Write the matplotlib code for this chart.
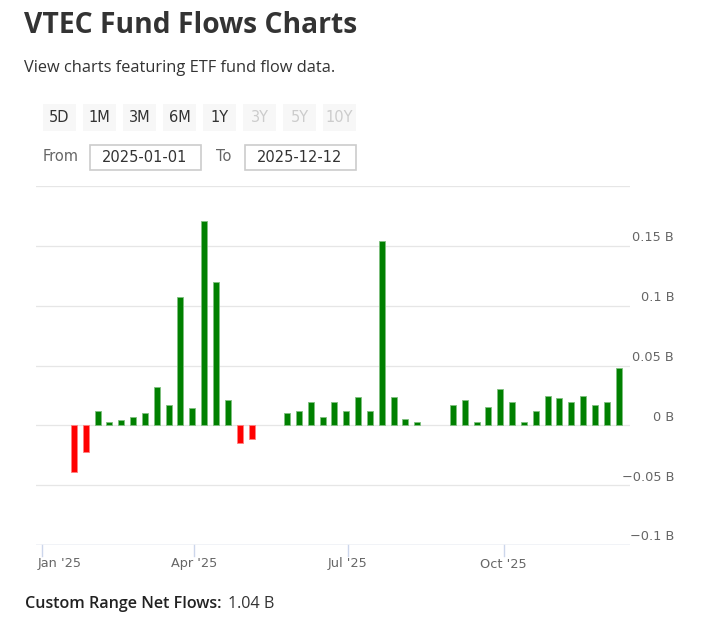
import matplotlib
matplotlib.use("Agg")
import matplotlib.pyplot as plt
import matplotlib.dates as mdates
import matplotlib.transforms as mtransforms
from matplotlib.patches import Rectangle
import numpy as np
import datetime as dt

# ---------------- data ----------------
week_dates = [
    "2025-01-20", "2025-01-27", "2025-02-03", "2025-02-10", "2025-02-17", "2025-02-24",
    "2025-03-03", "2025-03-10", "2025-03-17", "2025-03-24", "2025-03-31", "2025-04-07",
    "2025-04-14", "2025-04-21", "2025-04-28", "2025-05-05",
    "2025-05-26", "2025-06-02", "2025-06-09", "2025-06-16", "2025-06-23", "2025-06-30",
    "2025-07-07", "2025-07-14", "2025-07-21", "2025-07-28", "2025-08-04", "2025-08-11",
    "2025-09-01", "2025-09-08", "2025-09-15", "2025-09-22", "2025-09-29", "2025-10-06",
    "2025-10-13", "2025-10-20", "2025-10-27", "2025-11-03", "2025-11-10", "2025-11-17",
    "2025-11-24", "2025-12-01", "2025-12-08",
]
flows_b = [
    -0.039, -0.022, 0.012, 0.0025, 0.0048, 0.007,
    0.010, 0.032, 0.0173, 0.1076, 0.0143, 0.171,
    0.120, 0.0215, -0.0148, -0.0117,
    0.010, 0.012, 0.0196, 0.007, 0.0196, 0.012,
    0.0238, 0.012, 0.1537, 0.0238, 0.005, 0.0025,
    0.0173, 0.0215, 0.0025, 0.0154, 0.030, 0.0196,
    0.0025, 0.012, 0.0246, 0.0226, 0.0196, 0.0246,
    0.0173, 0.0196, 0.0478,
]
y_ticks = [-0.1, -0.05, 0.0, 0.05, 0.1, 0.15, 0.2]
y_tick_labels = ["\u22120.1 B", "\u22120.05 B", "0 B", "0.05 B", "0.1 B", "0.15 B", ""]
x_tick_dates = ["2025-01-01", "2025-04-01", "2025-07-01", "2025-10-01"]
x_tick_labels = ["Jan '25", "Apr '25", "Jul '25", "Oct '25"]
range_buttons = ["5D", "1M", "3M", "6M", "1Y", "3Y", "5Y", "10Y"]
button_enabled = [True, True, True, True, True, False, False, False]
date_from = "2025-01-01"
date_to = "2025-12-12"
net_flows_text = "1.04 B"

# ---------------- figure ----------------
W, H = 701, 631
fig = plt.figure(figsize=(W / 100, H / 100), dpi=100)
fig.patch.set_facecolor("white")
PX = mtransforms.Affine2D().scale(1 / W, -1 / H).translate(0, 1) + fig.transFigure

FONT = ["Open Sans", "DejaVu Sans"]
UI_FONT = ["DejaVu Sans"]

# title & subtitle
fig.text(24, 33, "VTEC Fund Flows Charts", transform=PX, fontsize=20.3,
         fontweight="bold", color="#333333", family=FONT, va="baseline", ha="left")
fig.text(24, 71.5, "View charts featuring ETF fund flow data.", transform=PX,
         fontsize=11.8, color="#333333", family=FONT, va="baseline", ha="left")

# range buttons
bx0, bw, bstep = 43, 33, 40
for i, (lab, en) in enumerate(zip(range_buttons, button_enabled)):
    x = bx0 + i * bstep
    fig.patches.append(Rectangle((x, 103.5), bw, 27, transform=PX,
                                 facecolor="#f7f7f7", edgecolor="none"))
    fig.text(x + bw / 2, 117, lab, transform=PX, fontsize=10.5,
             color="#333333" if en else "#cccccc", family=UI_FONT,
             ha="center", va="center")

# from / to
fig.text(43, 156.5, "From", transform=PX, fontsize=10.5, color="#666666",
         family=UI_FONT, ha="left", va="center")
fig.patches.append(Rectangle((89.5, 144.5), 111.5, 25.5, transform=PX,
                             facecolor="white", edgecolor="#cccccc", linewidth=1.2))
fig.text(145, 157, date_from, transform=PX, fontsize=10.5, color="#333333",
         family=UI_FONT, ha="center", va="center")
fig.text(216, 156.5, "To", transform=PX, fontsize=10.5, color="#666666",
         family=UI_FONT, ha="left", va="center")
fig.patches.append(Rectangle((244.5, 144.5), 111, 25.5, transform=PX,
                             facecolor="white", edgecolor="#cccccc", linewidth=1.2))
fig.text(300, 157, date_to, transform=PX, fontsize=10.5, color="#333333",
         family=UI_FONT, ha="center", va="center")

# ---------------- chart ----------------
ax_l, ax_r, ax_t, ax_b = 36, 630, 186, 545
ax = fig.add_axes([ax_l / W, (H - ax_b) / H, (ax_r - ax_l) / W, (ax_b - ax_t) / H])
ax.set_facecolor("white")
for s in ax.spines.values():
    s.set_visible(False)

dates = [dt.datetime.strptime(d, "%Y-%m-%d") for d in week_dates]
xnum = mdates.date2num(dates)
vals = np.array(flows_b)
colors = ["#008000" if v >= 0 else "#ff0000" for v in vals]
edges = ["#7fbf7f" if v >= 0 else "#ff8080" for v in vals]

jan1 = mdates.date2num(dt.datetime(2025, 1, 1))
ax.set_xlim(jan1 - 3.4, jan1 + 347.7)
ax.set_ylim(-0.1, 0.2)

for y in y_ticks:
    ax.axhline(y, color="#e6e6e6", linewidth=0.9, zorder=0)
ax.axhline(-0.1, color="#ccd6eb", linewidth=1.0, zorder=1)

ax.bar(xnum, vals, width=3.55, color=colors, edgecolor=edges, linewidth=0.6, zorder=2)

ax.set_xticks([])
ax.set_yticks([])

# y labels on right
ytr = ax.get_yaxis_transform() + mtransforms.ScaledTranslation(0, 0.08, fig.dpi_scale_trans)
xr = (674 - ax_l) / (ax_r - ax_l)
for y, lab in zip(y_ticks, y_tick_labels):
    if lab:
        ax.text(xr, y, lab, transform=ytr, ha="right", va="center", fontsize=9.3,
                color="#666666", family=UI_FONT, clip_on=False)

# x ticks & labels
xtr = ax.get_xaxis_transform()
for i, (d, lab) in enumerate(zip(x_tick_dates, x_tick_labels)):
    xd = mdates.date2num(dt.datetime.strptime(d, "%Y-%m-%d"))
    ax.plot([xd, xd], [0, -11 / (ax_b - ax_t)], transform=xtr, color="#ccd6eb",
            linewidth=1.0, clip_on=False)
    ly = -19 / (ax_b - ax_t)
    if i == 0:
        ax.text(0.002, ly, lab, transform=ax.transAxes, ha="left", va="center",
                fontsize=9.3, color="#666666", family=UI_FONT, clip_on=False)
    else:
        ax.text(xd, ly, lab, transform=xtr, ha="center", va="center",
                fontsize=9.3, color="#666666", family=UI_FONT, clip_on=False)

# bottom summary
t1 = fig.text(25, 603.5, "Custom Range Net Flows:", transform=PX, fontsize=11.6,
              fontweight="semibold", color="#222222", family=FONT, ha="left", va="center")
fig.canvas.draw()
bb = t1.get_window_extent()
fig.text(bb.x1 + 6, bb.y0 + bb.height / 2, net_flows_text, transform=None,
         fontsize=11.6, color="#333333", family=FONT, ha="left", va="center")

fig.savefig("out.png", dpi=100, facecolor="white")
